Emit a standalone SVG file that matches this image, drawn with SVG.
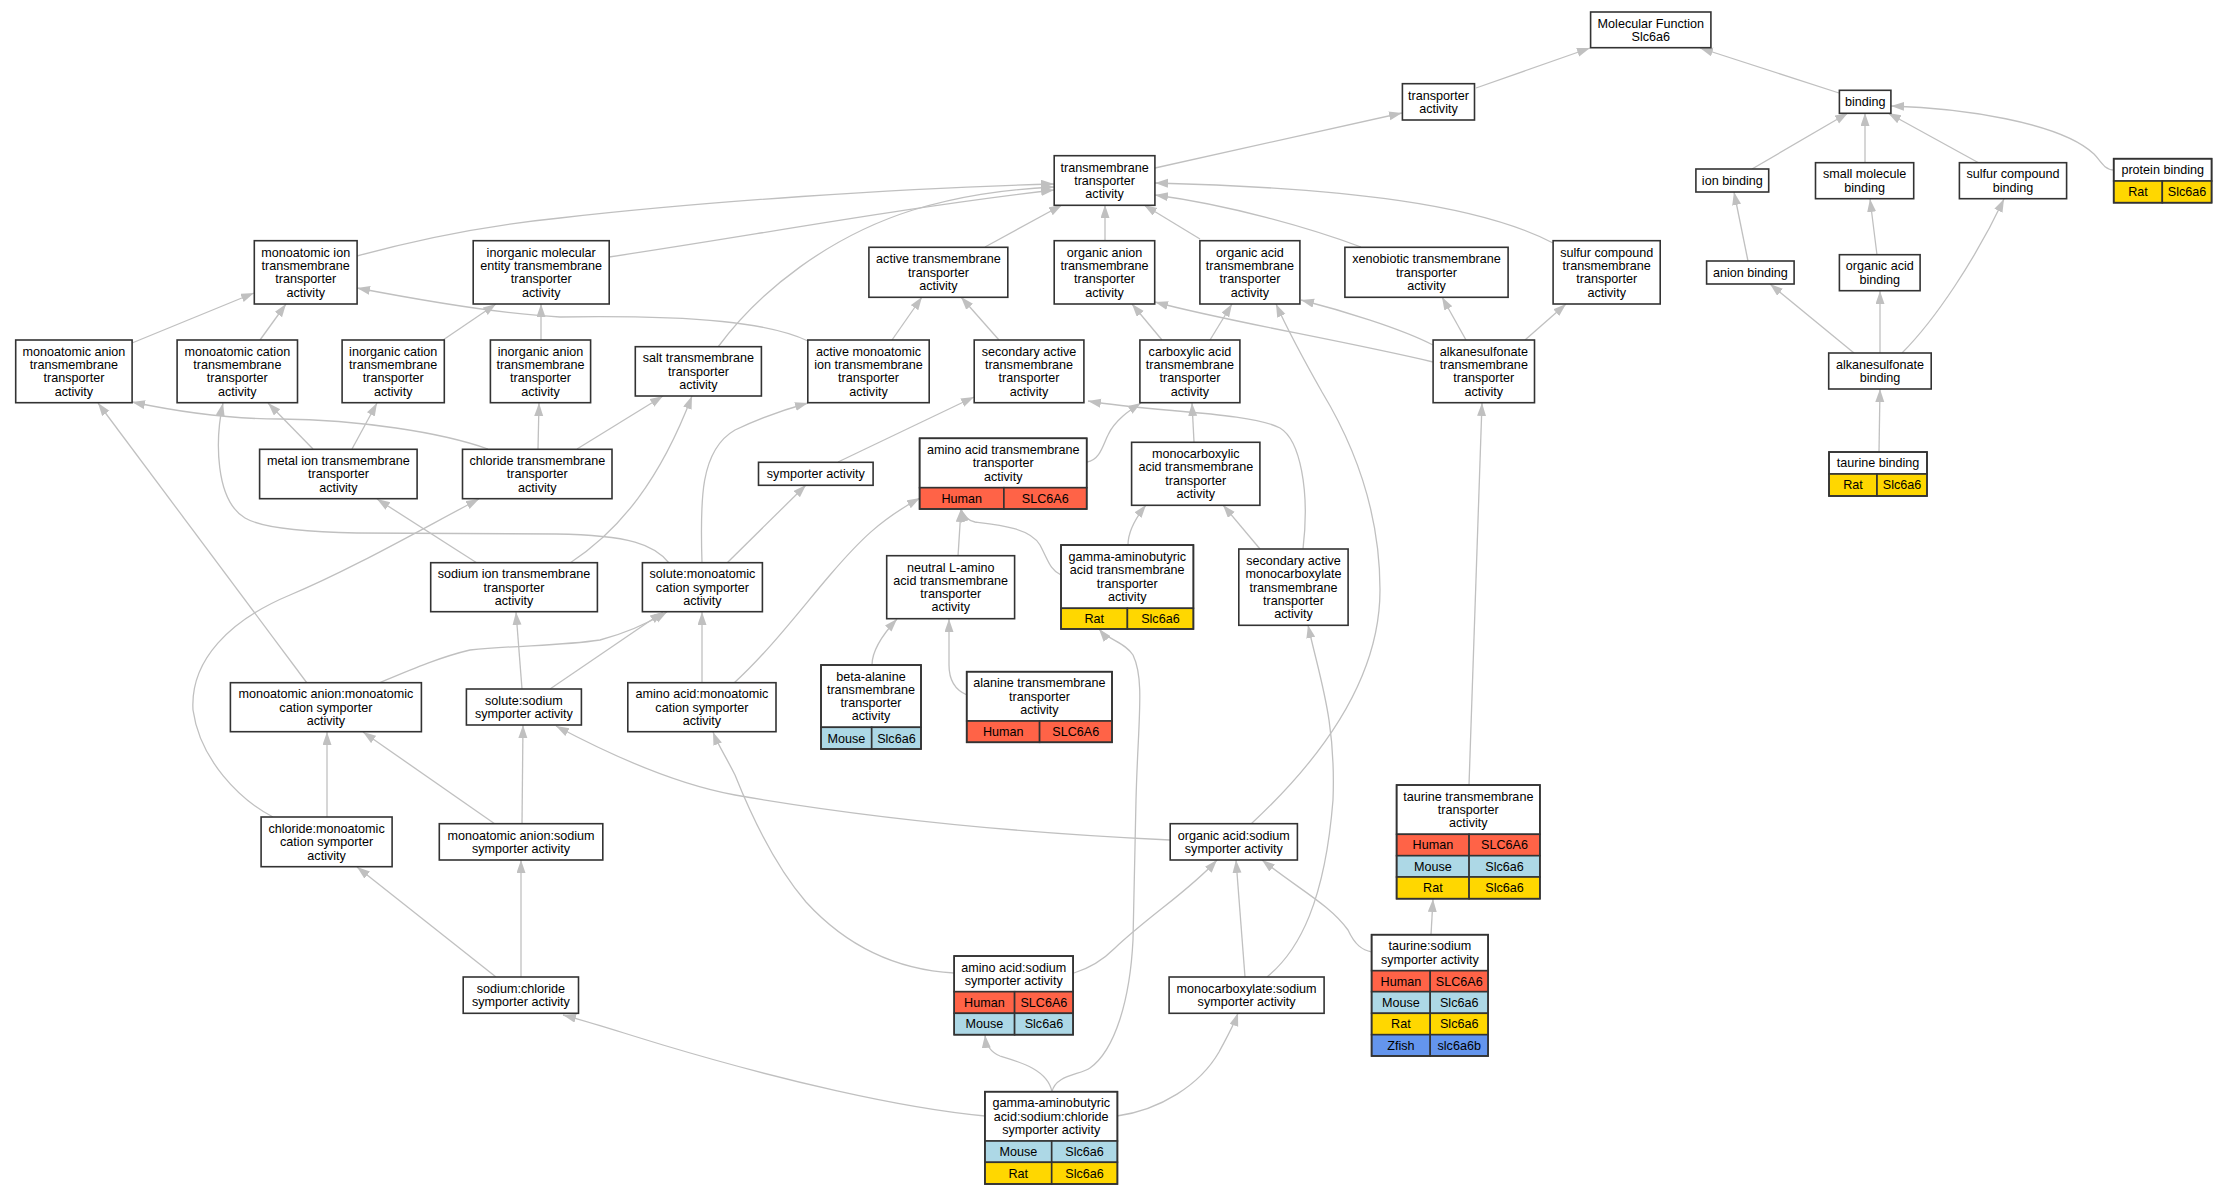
<svg xmlns="http://www.w3.org/2000/svg" width="2224" height="1195" viewBox="0 0 2224 1195">
<style>
text{font-family:"Liberation Sans",Arial,sans-serif;font-size:12.6px;text-anchor:middle;fill:#000}
.n rect{fill:#fff;stroke:#333;stroke-width:1.6}
.n rect.hu{fill:#FF6347}
.n rect.mo{fill:#ADD8E6}
.n rect.ra{fill:#FFD700}
.n rect.zf{fill:#6495ED}
.n rect.o{fill:none}
.e path{fill:none;stroke:#c0c0c0;stroke-width:1.3;marker-end:url(#a)}
</style>
<defs>
<marker id="a" markerUnits="userSpaceOnUse" markerWidth="14" markerHeight="10" refX="13" refY="4.5" orient="auto"><path d="M0,0 L13,4.5 L0,9 z" fill="#c0c0c0"/></marker>
</defs>
<rect width="2224" height="1195" fill="#fff"/>
<g id="edges" class="e">
<path d="M1476,88 L1590,48"/>
<path d="M1839,93 L1700,48"/>
<path d="M1155,168 L1402,113"/>
<path d="M1752,169 L1848,113"/>
<path d="M1865,163 L1865,113"/>
<path d="M1979,163 L1888,113"/>
<path d="M2114,170 C2104,170 2100,160 2094,154 C2060,122 1960,108 1891,106"/>
<path d="M1748,261 L1734,192"/>
<path d="M1877,255 L1870,199"/>
<path d="M1854,353 L1770,284"/>
<path d="M1880,353 L1880,291"/>
<path d="M1902,353 C1935,320 1975,260 2004,199"/>
<path d="M1879,452 L1880,389"/>
<path d="M357,256 C430,236 490,225 560,218 C700,202 900,188 1054,184"/>
<path d="M609,257 C750,236 900,208 1054,190"/>
<path d="M718,347 C760,290 830,236 913,210 C960,196 1000,190 1054,187"/>
<path d="M985,247 L1062,205"/>
<path d="M1105,241 L1105,205"/>
<path d="M1200,239 L1144,205"/>
<path d="M1361,247 C1310,228 1230,205 1155,195"/>
<path d="M1553,243 C1480,205 1350,188 1155,183"/>
<path d="M132,343 L254,293"/>
<path d="M260,340 L286,304"/>
<path d="M808,341 C770,323 700,315 560,317 C500,314 430,302 357,288"/>
<path d="M443,340 L496,304"/>
<path d="M541,340 L541,304"/>
<path d="M892,340 L922,297"/>
<path d="M999,340 L961,297"/>
<path d="M1162,340 L1132,304"/>
<path d="M1433,362 C1340,340 1220,320 1155,302"/>
<path d="M1210,340 L1232,304"/>
<path d="M1433,345 C1400,328 1340,310 1301,300"/>
<path d="M1251,824 C1320,760 1380,680 1380,590 C1380,500 1345,430 1322,392 C1305,362 1290,335 1276,304"/>
<path d="M1466,340 L1442,297"/>
<path d="M1525,340 L1566,304"/>
<path d="M1469,785 L1482,403"/>
<path d="M488,449 C440,432 360,420 280,419 C220,419 170,410 132,402"/>
<path d="M307,683 L98,403"/>
<path d="M313,449 L268,403"/>
<path d="M669,563 C655,545 630,535 556,534 L357,533 C300,532 262,528 245,518 C215,500 215,440 223,403"/>
<path d="M352,449 L377,403"/>
<path d="M538,449 L539,403"/>
<path d="M577,449 L663,396"/>
<path d="M570,563 C620,530 660,480 692,396"/>
<path d="M702,563 C700,500 700,450 735,430 C760,418 790,408 808,403"/>
<path d="M838,462 L974,397"/>
<path d="M1087,462 C1100,460 1103,445 1108,435 C1115,420 1130,410 1141,403"/>
<path d="M1303,549 C1310,490 1300,440 1280,428 C1250,412 1150,412 1088,401"/>
<path d="M1194,442 L1192,403"/>
<path d="M1128,545 C1128,530 1138,515 1146,505"/>
<path d="M1260,549 L1223,505"/>
<path d="M958,556 L961,509"/>
<path d="M1061,575 C1050,570 1048,560 1040,545 C1030,528 1000,525 975,522 C966,520 963,515 961,509"/>
<path d="M734,683 C770,650 800,610 830,575 C860,540 880,520 920,498"/>
<path d="M872,665 C872,650 885,632 897,619"/>
<path d="M967,695 C955,690 949,680 949,665 L949,619"/>
<path d="M727,563 L806,485"/>
<path d="M379,683 C410,670 440,657 470,650 C520,645 560,646 600,640 C630,632 650,622 667,612"/>
<path d="M550,689 L663,612"/>
<path d="M702,683 L702,612"/>
<path d="M522,689 L516,612"/>
<path d="M477,563 L377,499"/>
<path d="M273,817 C240,800 200,760 193,710 C190,660 230,620 290,595 C350,570 420,530 479,499"/>
<path d="M327,817 L327,732"/>
<path d="M495,824 L363,732"/>
<path d="M522,824 L523,725"/>
<path d="M1170,840 C1000,832 850,815 735,795 C680,785 620,760 556,726"/>
<path d="M521,977 L521,860"/>
<path d="M496,977 L357,867"/>
<path d="M985,1116 C900,1108 780,1080 663,1045 C620,1032 590,1022 563,1015"/>
<path d="M954,973 C900,970 850,950 806,902 C770,860 745,800 735,775 C725,755 718,745 713,732"/>
<path d="M1052,1092 C1048,1070 1020,1062 1000,1056 C990,1052 986,1045 985,1035"/>
<path d="M1074,973 C1090,968 1105,958 1115,948 C1150,915 1190,890 1217,860"/>
<path d="M1245,977 L1236,860"/>
<path d="M1372,952 C1362,950 1355,945 1348,930 C1330,905 1300,890 1262,860"/>
<path d="M1117,1116 C1160,1110 1200,1085 1219,1052 C1228,1035 1234,1025 1238,1013"/>
<path d="M1267,977 C1300,950 1325,900 1333,800 C1336,720 1320,680 1308,625"/>
<path d="M1431,935 L1433,899"/>
<path d="M1052,1092 C1055,1075 1080,1075 1090,1068 C1115,1050 1130,1000 1133,940 L1136,800 C1138,720 1145,680 1133,655 C1125,642 1108,640 1099,629"/>
</g>
<g id="mf" class="n"><rect x="1590.6" y="12" width="120.3" height="35.7"/><text><tspan x="1650.8" y="27.5">Molecular Function</tspan><tspan x="1650.8" y="40.8">Slc6a6</tspan></text></g>
<g id="transporter" class="n"><rect x="1402.4" y="83.7" width="72.1" height="36.3"/><text><tspan x="1438.5" y="99.5">transporter</tspan><tspan x="1438.5" y="112.8">activity</tspan></text></g>
<g id="binding" class="n"><rect x="1839.4" y="90.3" width="51.5" height="23"/><text x="1865.2" y="106.1">binding</text></g>
<g id="tmt" class="n"><rect x="1054.2" y="155.7" width="100.7" height="49.6"/><text><tspan x="1104.6" y="171.5">transmembrane</tspan><tspan x="1104.6" y="184.8">transporter</tspan><tspan x="1104.6" y="198.1">activity</tspan></text></g>
<g id="ionb" class="n"><rect x="1695.9" y="169" width="72.8" height="23"/><text x="1732.3" y="184.8">ion binding</text></g>
<g id="smb" class="n"><rect x="1815.5" y="162.7" width="98.2" height="36"/><text><tspan x="1864.6" y="178.4">small molecule</tspan><tspan x="1864.6" y="191.7">binding</tspan></text></g>
<g id="scb" class="n"><rect x="1959.4" y="162.7" width="107.2" height="36"/><text><tspan x="2013" y="178.4">sulfur compound</tspan><tspan x="2013" y="191.7">binding</tspan></text></g>
<g id="protb" class="n"><rect x="2113.7" y="158.7" width="97.9" height="22.3"/><rect class="ra" x="2113.7" y="181" width="48.6" height="21.7"/><rect class="ra" x="2162.3" y="181" width="49.3" height="21.7"/><rect class="o" x="2113.7" y="158.7" width="97.9" height="44"/><text x="2162.7" y="174.2">protein binding</text><text x="2138" y="196.2">Rat</text><text x="2187" y="196.2">Slc6a6</text></g>
<g id="mit" class="n"><rect x="254.3" y="240.7" width="102.8" height="63.3"/><text><tspan x="305.7" y="256.7">monoatomic ion</tspan><tspan x="305.7" y="270">transmembrane</tspan><tspan x="305.7" y="283.3">transporter</tspan><tspan x="305.7" y="296.6">activity</tspan></text></g>
<g id="imet" class="n"><rect x="473.2" y="240.7" width="136" height="63.3"/><text><tspan x="541.2" y="256.7">inorganic molecular</tspan><tspan x="541.2" y="270">entity transmembrane</tspan><tspan x="541.2" y="283.3">transporter</tspan><tspan x="541.2" y="296.6">activity</tspan></text></g>
<g id="att" class="n"><rect x="868.9" y="247.3" width="138.9" height="50"/><text><tspan x="938.4" y="263.3">active transmembrane</tspan><tspan x="938.4" y="276.6">transporter</tspan><tspan x="938.4" y="289.9">activity</tspan></text></g>
<g id="oat" class="n"><rect x="1054.2" y="240.7" width="100.5" height="63.3"/><text><tspan x="1104.5" y="256.7">organic anion</tspan><tspan x="1104.5" y="270">transmembrane</tspan><tspan x="1104.5" y="283.3">transporter</tspan><tspan x="1104.5" y="296.6">activity</tspan></text></g>
<g id="oact" class="n"><rect x="1199.9" y="240.7" width="100" height="63.3"/><text><tspan x="1249.9" y="256.7">organic acid</tspan><tspan x="1249.9" y="270">transmembrane</tspan><tspan x="1249.9" y="283.3">transporter</tspan><tspan x="1249.9" y="296.6">activity</tspan></text></g>
<g id="xeno" class="n"><rect x="1344.9" y="247.3" width="163.2" height="50"/><text><tspan x="1426.5" y="263.3">xenobiotic transmembrane</tspan><tspan x="1426.5" y="276.6">transporter</tspan><tspan x="1426.5" y="289.9">activity</tspan></text></g>
<g id="sct" class="n"><rect x="1553.1" y="240.7" width="107.1" height="63.3"/><text><tspan x="1606.7" y="256.7">sulfur compound</tspan><tspan x="1606.7" y="270">transmembrane</tspan><tspan x="1606.7" y="283.3">transporter</tspan><tspan x="1606.7" y="296.6">activity</tspan></text></g>
<g id="anb" class="n"><rect x="1706.6" y="261" width="87.5" height="23"/><text x="1750.4" y="276.8">anion binding</text></g>
<g id="oab" class="n"><rect x="1839.4" y="254.7" width="80.7" height="36"/><text><tspan x="1879.8" y="270.4">organic acid</tspan><tspan x="1879.8" y="283.7">binding</tspan></text></g>
<g id="mat" class="n"><rect x="15.7" y="340" width="116.4" height="62.7"/><text><tspan x="73.9" y="355.7">monoatomic anion</tspan><tspan x="73.9" y="369">transmembrane</tspan><tspan x="73.9" y="382.3">transporter</tspan><tspan x="73.9" y="395.6">activity</tspan></text></g>
<g id="mct" class="n"><rect x="177.1" y="340" width="120.4" height="62.7"/><text><tspan x="237.3" y="355.7">monoatomic cation</tspan><tspan x="237.3" y="369">transmembrane</tspan><tspan x="237.3" y="382.3">transporter</tspan><tspan x="237.3" y="395.6">activity</tspan></text></g>
<g id="ict" class="n"><rect x="342.1" y="340" width="102.2" height="62.7"/><text><tspan x="393.2" y="355.7">inorganic cation</tspan><tspan x="393.2" y="369">transmembrane</tspan><tspan x="393.2" y="382.3">transporter</tspan><tspan x="393.2" y="395.6">activity</tspan></text></g>
<g id="iat" class="n"><rect x="490.4" y="340" width="100.2" height="62.7"/><text><tspan x="540.5" y="355.7">inorganic anion</tspan><tspan x="540.5" y="369">transmembrane</tspan><tspan x="540.5" y="382.3">transporter</tspan><tspan x="540.5" y="395.6">activity</tspan></text></g>
<g id="salt" class="n"><rect x="635.3" y="346.7" width="126.1" height="49.3"/><text><tspan x="698.4" y="362.4">salt transmembrane</tspan><tspan x="698.4" y="375.7">transporter</tspan><tspan x="698.4" y="389">activity</tspan></text></g>
<g id="amit" class="n"><rect x="807.8" y="340" width="121.4" height="62.7"/><text><tspan x="868.5" y="355.7">active monoatomic</tspan><tspan x="868.5" y="369">ion transmembrane</tspan><tspan x="868.5" y="382.3">transporter</tspan><tspan x="868.5" y="395.6">activity</tspan></text></g>
<g id="satt" class="n"><rect x="974.2" y="340" width="109.7" height="62.7"/><text><tspan x="1029" y="355.7">secondary active</tspan><tspan x="1029" y="369">transmembrane</tspan><tspan x="1029" y="382.3">transporter</tspan><tspan x="1029" y="395.6">activity</tspan></text></g>
<g id="cat" class="n"><rect x="1139.9" y="340" width="100" height="62.7"/><text><tspan x="1189.9" y="355.7">carboxylic acid</tspan><tspan x="1189.9" y="369">transmembrane</tspan><tspan x="1189.9" y="382.3">transporter</tspan><tspan x="1189.9" y="395.6">activity</tspan></text></g>
<g id="alkt" class="n"><rect x="1433.1" y="340" width="101.4" height="62.7"/><text><tspan x="1483.8" y="355.7">alkanesulfonate</tspan><tspan x="1483.8" y="369">transmembrane</tspan><tspan x="1483.8" y="382.3">transporter</tspan><tspan x="1483.8" y="395.6">activity</tspan></text></g>
<g id="alkb" class="n"><rect x="1828.7" y="353" width="102.5" height="36"/><text><tspan x="1880" y="368.7">alkanesulfonate</tspan><tspan x="1880" y="382">binding</tspan></text></g>
<g id="metal" class="n"><rect x="259.6" y="449.3" width="157.5" height="49.4"/><text><tspan x="338.4" y="465">metal ion transmembrane</tspan><tspan x="338.4" y="478.3">transporter</tspan><tspan x="338.4" y="491.6">activity</tspan></text></g>
<g id="clt" class="n"><rect x="462.5" y="449.3" width="149.5" height="49.4"/><text><tspan x="537.3" y="465">chloride transmembrane</tspan><tspan x="537.3" y="478.3">transporter</tspan><tspan x="537.3" y="491.6">activity</tspan></text></g>
<g id="symp" class="n"><rect x="758.5" y="462.3" width="114.6" height="23"/><text x="815.8" y="478.1">symporter activity</text></g>
<g id="aat" class="n"><rect x="919.6" y="438.3" width="167.1" height="49.4"/><rect class="hu" x="919.6" y="487.7" width="84.3" height="21.3"/><rect class="hu" x="1003.9" y="487.7" width="82.8" height="21.3"/><rect class="o" x="919.6" y="438.3" width="167.1" height="70.7"/><text><tspan x="1003.2" y="454">amino acid transmembrane</tspan><tspan x="1003.2" y="467.3">transporter</tspan><tspan x="1003.2" y="480.6">activity</tspan></text><text x="961.8" y="502.7">Human</text><text x="1045.3" y="502.7">SLC6A6</text></g>
<g id="mcat" class="n"><rect x="1131.6" y="442.3" width="128.3" height="63"/><text><tspan x="1195.8" y="458.1">monocarboxylic</tspan><tspan x="1195.8" y="471.4">acid transmembrane</tspan><tspan x="1195.8" y="484.7">transporter</tspan><tspan x="1195.8" y="498">activity</tspan></text></g>
<g id="taub" class="n"><rect x="1829" y="452" width="98" height="22"/><rect class="ra" x="1829" y="474" width="48" height="22"/><rect class="ra" x="1877" y="474" width="50" height="22"/><rect class="o" x="1829" y="452" width="98" height="44"/><text x="1878" y="467.3">taurine binding</text><text x="1853" y="489.3">Rat</text><text x="1902" y="489.3">Slc6a6</text></g>
<g id="sit" class="n"><rect x="430.7" y="562.7" width="166.7" height="49"/><text><tspan x="514" y="578.2">sodium ion transmembrane</tspan><tspan x="514" y="591.5">transporter</tspan><tspan x="514" y="604.8">activity</tspan></text></g>
<g id="smc" class="n"><rect x="642.4" y="562.7" width="120" height="49"/><text><tspan x="702.4" y="578.2">solute:monoatomic</tspan><tspan x="702.4" y="591.5">cation symporter</tspan><tspan x="702.4" y="604.8">activity</tspan></text></g>
<g id="nla" class="n"><rect x="886.7" y="555.7" width="127.9" height="63"/><text><tspan x="950.7" y="571.5">neutral L-amino</tspan><tspan x="950.7" y="584.8">acid transmembrane</tspan><tspan x="950.7" y="598.1">transporter</tspan><tspan x="950.7" y="611.4">activity</tspan></text></g>
<g id="gabat" class="n"><rect x="1061" y="545" width="132.4" height="63.3"/><rect class="ra" x="1061" y="608.3" width="66.4" height="20.7"/><rect class="ra" x="1127.4" y="608.3" width="66" height="20.7"/><rect class="o" x="1061" y="545" width="132.4" height="84"/><text><tspan x="1127.2" y="561">gamma-aminobutyric</tspan><tspan x="1127.2" y="574.3">acid transmembrane</tspan><tspan x="1127.2" y="587.6">transporter</tspan><tspan x="1127.2" y="600.9">activity</tspan></text><text x="1094.2" y="623">Rat</text><text x="1160.4" y="623">Slc6a6</text></g>
<g id="samt" class="n"><rect x="1238.8" y="549" width="109.3" height="76.3"/><text><tspan x="1293.5" y="564.9">secondary active</tspan><tspan x="1293.5" y="578.2">monocarboxylate</tspan><tspan x="1293.5" y="591.5">transmembrane</tspan><tspan x="1293.5" y="604.8">transporter</tspan><tspan x="1293.5" y="618.1">activity</tspan></text></g>
<g id="mamc" class="n"><rect x="230.4" y="682.7" width="191" height="49"/><text><tspan x="325.9" y="698.2">monoatomic anion:monoatomic</tspan><tspan x="325.9" y="711.5">cation symporter</tspan><tspan x="325.9" y="724.8">activity</tspan></text></g>
<g id="ss" class="n"><rect x="466.4" y="689" width="115" height="36"/><text><tspan x="523.9" y="704.7">solute:sodium</tspan><tspan x="523.9" y="718">symporter activity</tspan></text></g>
<g id="aamc" class="n"><rect x="627.8" y="682.7" width="148.2" height="49"/><text><tspan x="701.9" y="698.2">amino acid:monoatomic</tspan><tspan x="701.9" y="711.5">cation symporter</tspan><tspan x="701.9" y="724.8">activity</tspan></text></g>
<g id="bal" class="n"><rect x="821" y="665" width="100" height="62.3"/><rect class="mo" x="821" y="727.3" width="50.7" height="21.7"/><rect class="mo" x="871.7" y="727.3" width="49.3" height="21.7"/><rect class="o" x="821" y="665" width="100" height="84"/><text><tspan x="871" y="680.5">beta-alanine</tspan><tspan x="871" y="693.8">transmembrane</tspan><tspan x="871" y="707.1">transporter</tspan><tspan x="871" y="720.4">activity</tspan></text><text x="846.4" y="742.5">Mouse</text><text x="896.4" y="742.5">Slc6a6</text></g>
<g id="alat" class="n"><rect x="966.7" y="671.7" width="145.3" height="49.3"/><rect class="hu" x="966.7" y="721" width="72.9" height="21.3"/><rect class="hu" x="1039.6" y="721" width="72.4" height="21.3"/><rect class="o" x="966.7" y="671.7" width="145.3" height="70.6"/><text><tspan x="1039.4" y="687.4">alanine transmembrane</tspan><tspan x="1039.4" y="700.7">transporter</tspan><tspan x="1039.4" y="714">activity</tspan></text><text x="1003.2" y="736">Human</text><text x="1075.8" y="736">SLC6A6</text></g>
<g id="taut" class="n"><rect x="1396.6" y="785" width="143.3" height="49.3"/><rect class="hu" x="1396.6" y="834.3" width="72.5" height="21.4"/><rect class="hu" x="1469.1" y="834.3" width="70.8" height="21.4"/><rect class="mo" x="1396.6" y="855.7" width="72.5" height="21.3"/><rect class="mo" x="1469.1" y="855.7" width="70.8" height="21.3"/><rect class="ra" x="1396.6" y="877" width="72.5" height="21.7"/><rect class="ra" x="1469.1" y="877" width="70.8" height="21.7"/><rect class="o" x="1396.6" y="785" width="143.3" height="113.7"/><text><tspan x="1468.3" y="800.7">taurine transmembrane</tspan><tspan x="1468.3" y="814">transporter</tspan><tspan x="1468.3" y="827.3">activity</tspan></text><text x="1432.9" y="849.3">Human</text><text x="1504.5" y="849.3">SLC6A6</text><text x="1432.9" y="870.7">Mouse</text><text x="1504.5" y="870.7">Slc6a6</text><text x="1432.9" y="892.2">Rat</text><text x="1504.5" y="892.2">Slc6a6</text></g>
<g id="cmc" class="n"><rect x="261.1" y="817" width="131" height="49.7"/><text><tspan x="326.6" y="832.9">chloride:monoatomic</tspan><tspan x="326.6" y="846.2">cation symporter</tspan><tspan x="326.6" y="859.5">activity</tspan></text></g>
<g id="mas" class="n"><rect x="439.3" y="823.7" width="163.5" height="36.3"/><text><tspan x="521" y="839.5">monoatomic anion:sodium</tspan><tspan x="521" y="852.8">symporter activity</tspan></text></g>
<g id="oas" class="n"><rect x="1170.2" y="823.7" width="127.2" height="36.3"/><text><tspan x="1233.8" y="839.5">organic acid:sodium</tspan><tspan x="1233.8" y="852.8">symporter activity</tspan></text></g>
<g id="taus" class="n"><rect x="1371.6" y="934.7" width="116.5" height="36"/><rect class="hu" x="1371.6" y="970.7" width="58.6" height="21"/><rect class="hu" x="1430.2" y="970.7" width="57.9" height="21"/><rect class="mo" x="1371.6" y="991.7" width="58.6" height="21.6"/><rect class="mo" x="1430.2" y="991.7" width="57.9" height="21.6"/><rect class="ra" x="1371.6" y="1013.3" width="58.6" height="21.4"/><rect class="ra" x="1430.2" y="1013.3" width="57.9" height="21.4"/><rect class="zf" x="1371.6" y="1034.7" width="58.6" height="21.3"/><rect class="zf" x="1430.2" y="1034.7" width="57.9" height="21.3"/><rect class="o" x="1371.6" y="934.7" width="116.5" height="121.3"/><text><tspan x="1429.9" y="950.4">taurine:sodium</tspan><tspan x="1429.9" y="963.7">symporter activity</tspan></text><text x="1400.9" y="985.5">Human</text><text x="1459.2" y="985.5">SLC6A6</text><text x="1400.9" y="1006.8">Mouse</text><text x="1459.2" y="1006.8">Slc6a6</text><text x="1400.9" y="1028.3">Rat</text><text x="1459.2" y="1028.3">Slc6a6</text><text x="1400.9" y="1049.7">Zfish</text><text x="1459.2" y="1049.7">slc6a6b</text></g>
<g id="aas" class="n"><rect x="954.2" y="956" width="118.9" height="35.7"/><rect class="hu" x="954.2" y="991.7" width="60.4" height="21.6"/><rect class="hu" x="1014.6" y="991.7" width="58.5" height="21.6"/><rect class="mo" x="954.2" y="1013.3" width="60.4" height="21.4"/><rect class="mo" x="1014.6" y="1013.3" width="58.5" height="21.4"/><rect class="o" x="954.2" y="956" width="118.9" height="78.7"/><text><tspan x="1013.7" y="971.5">amino acid:sodium</tspan><tspan x="1013.7" y="984.8">symporter activity</tspan></text><text x="984.4" y="1006.8">Human</text><text x="1043.9" y="1006.8">SLC6A6</text><text x="984.4" y="1028.3">Mouse</text><text x="1043.9" y="1028.3">Slc6a6</text></g>
<g id="scs" class="n"><rect x="463.2" y="977" width="115.3" height="36.3"/><text><tspan x="520.9" y="992.8">sodium:chloride</tspan><tspan x="520.9" y="1006.1">symporter activity</tspan></text></g>
<g id="mcs" class="n"><rect x="1169.1" y="977" width="155" height="36.3"/><text><tspan x="1246.6" y="992.8">monocarboxylate:sodium</tspan><tspan x="1246.6" y="1006.1">symporter activity</tspan></text></g>
<g id="gabas" class="n"><rect x="984.9" y="1091.7" width="132.5" height="49.3"/><rect class="mo" x="984.9" y="1141" width="66.8" height="21.3"/><rect class="mo" x="1051.7" y="1141" width="65.7" height="21.3"/><rect class="ra" x="984.9" y="1162.3" width="66.8" height="21.7"/><rect class="ra" x="1051.7" y="1162.3" width="65.7" height="21.7"/><rect class="o" x="984.9" y="1091.7" width="132.5" height="92.3"/><text><tspan x="1051.2" y="1107.4">gamma-aminobutyric</tspan><tspan x="1051.2" y="1120.7">acid:sodium:chloride</tspan><tspan x="1051.2" y="1134">symporter activity</tspan></text><text x="1018.3" y="1156">Mouse</text><text x="1084.6" y="1156">Slc6a6</text><text x="1018.3" y="1177.5">Rat</text><text x="1084.6" y="1177.5">Slc6a6</text></g>
</svg>
